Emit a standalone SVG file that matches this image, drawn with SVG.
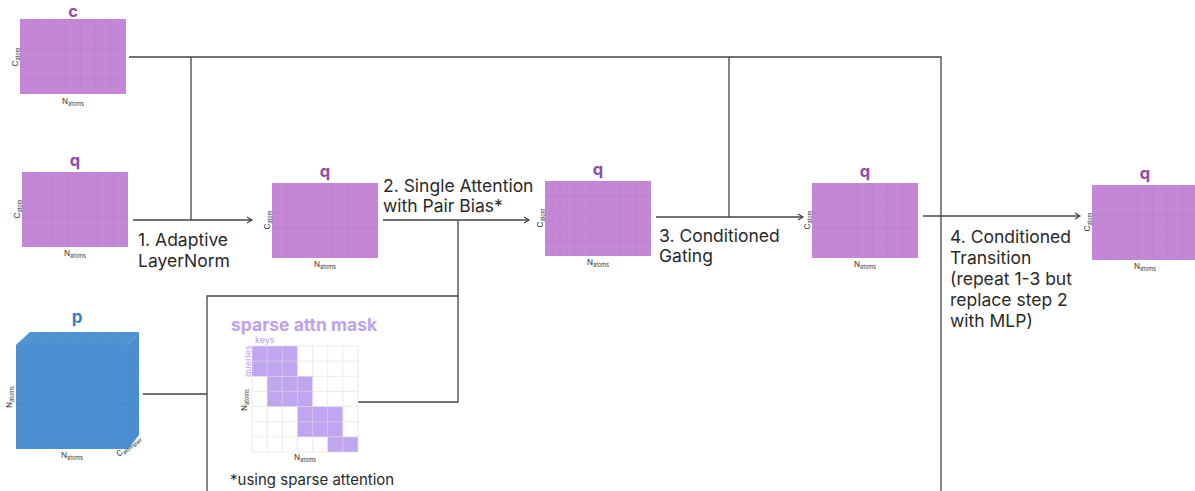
<svg xmlns="http://www.w3.org/2000/svg" xmlns:xlink="http://www.w3.org/1999/xlink" width="1195" height="491" viewBox="0 0 1195 491">
  <style>
    .step { font-family: Inter, "Liberation Sans", sans-serif; font-size: 17.5px; fill: #2a2a2a; }
    .name { font-family: Inter, "Liberation Sans", sans-serif; font-size: 16.5px; font-weight: 700; text-anchor: middle; }
    .q { fill: #8f4cab; }
    .p { fill: #3b7fc4; }
    .dim { font-family: Inter, "Liberation Sans", sans-serif; font-size: 8px; fill: #333; text-anchor: middle; }
    .sub { font-size: 5.5px; }
    .wire { fill: none; stroke: #444; stroke-width: 1.3; }
    .mask-text { font-family: Inter, "Liberation Sans", sans-serif; fill: #bea2ee; }
  </style>
  <defs>
    <marker id="arrow" markerWidth="8" markerHeight="8" refX="6" refY="4" orient="auto" markerUnits="userSpaceOnUse">
      <path d="M1,1 L6,4 L1,7" fill="none" stroke="#444" stroke-width="1.2"/>
    </marker>
    <!-- 7 x 5 tensor grid -->
    <g id="mat">
      <rect x="0" y="0" width="106" height="75" fill="#c487d6"/>
      <path d="M15.1,0V75M30.3,0V75M45.4,0V75M60.6,0V75M75.7,0V75M90.9,0V75M0,15H106M0,30H106M0,45H106M0,60H106" stroke="#b97bcd" stroke-width="0.6" fill="none"/>
    </g>
  </defs>
  <rect width="1195" height="491" fill="#fff"/>

  <!-- connectors -->
  <g id="connectors">
    <path class="wire" d="M129,57 H941 V491"/>
    <path class="wire" d="M191,57 V220"/>
    <path class="wire" d="M729,57 V217"/>
    <path class="wire" d="M133,220 H252" marker-end="url(#arrow)"/>
    <path class="wire" d="M383,220 H529" marker-end="url(#arrow)"/>
    <path class="wire" d="M656,217 H803" marker-end="url(#arrow)"/>
    <path class="wire" d="M923,216 H1080" marker-end="url(#arrow)"/>
    <path class="wire" d="M458,220 V402 H358"/>
    <path class="wire" d="M458,296 H207 V491"/>
    <path class="wire" d="M143,394 H207"/>
  </g>

  <!-- step labels -->
  <g id="labels">
    <text class="step" x="138" y="246">1. Adaptive</text>
    <text class="step" x="138" y="267">LayerNorm</text>
    <text class="step" x="383" y="192">2. Single Attention</text>
    <text class="step" x="383" y="212">with Pair Bias*</text>
    <text class="step" x="659" y="242">3. Conditioned</text>
    <text class="step" x="659" y="262">Gating</text>
    <text class="step" x="950" y="243">4. Conditioned</text>
    <text class="step" x="950" y="264">Transition</text>
    <text class="step" x="950" y="285">(repeat 1-3 but</text>
    <text class="step" x="950" y="306">replace step 2</text>
    <text class="step" x="950" y="327">with MLP)</text>
    <text class="step" x="230" y="485" style="font-size:15px">*using sparse attention</text>
  </g>

  <g id="node-c">
    <use href="#mat" x="20" y="19"/>
    <text class="name q" x="73" y="17">c</text>
    <text class="dim" transform="translate(18,57) rotate(-90)">C<tspan class="sub" dy="1.5">atom</tspan></text>
    <text class="dim" x="73" y="104">N<tspan class="sub" dy="1.5">atoms</tspan></text>
  </g>

  <g id="node-q-in">
    <use href="#mat" x="22" y="172"/>
    <text class="name q" x="75" y="166">q</text>
    <text class="dim" transform="translate(20,209) rotate(-90)">C<tspan class="sub" dy="1.5">atom</tspan></text>
    <text class="dim" x="75" y="256">N<tspan class="sub" dy="1.5">atoms</tspan></text>
  </g>

  <g id="node-q-norm">
    <use href="#mat" x="272" y="183"/>
    <text class="name q" x="325" y="177">q</text>
    <text class="dim" transform="translate(270,220) rotate(-90)">C<tspan class="sub" dy="1.5">atom</tspan></text>
    <text class="dim" x="325" y="267">N<tspan class="sub" dy="1.5">atoms</tspan></text>
  </g>

  <g id="node-q-attn">
    <use href="#mat" x="545" y="181"/>
    <text class="name q" x="598" y="175">q</text>
    <text class="dim" transform="translate(543,218) rotate(-90)">C<tspan class="sub" dy="1.5">atom</tspan></text>
    <text class="dim" x="598" y="265">N<tspan class="sub" dy="1.5">atoms</tspan></text>
  </g>

  <g id="node-q-gate">
    <use href="#mat" x="812" y="183"/>
    <text class="name q" x="865" y="177">q</text>
    <text class="dim" transform="translate(810,220) rotate(-90)">C<tspan class="sub" dy="1.5">atom</tspan></text>
    <text class="dim" x="865" y="267">N<tspan class="sub" dy="1.5">atoms</tspan></text>
  </g>

  <g id="node-q-out">
    <use href="#mat" x="1092" y="185"/>
    <text class="name q" x="1145" y="179">q</text>
    <text class="dim" transform="translate(1090,222) rotate(-90)">C<tspan class="sub" dy="1.5">atom</tspan></text>
    <text class="dim" x="1145" y="269">N<tspan class="sub" dy="1.5">atoms</tspan></text>
  </g>

  <!-- pair representation cube -->
  <g id="node-p">
    <path d="M16,345 L30,332 H139 L128,345 Z" fill="#4f93d3"/>
    <path d="M128,345 L139,332 V435 L128,449 Z" fill="#4a8ed0"/>
    <rect x="16" y="345" width="112" height="104" fill="#4c90d1"/>
    <path d="M32,345V449M48,345V449M64,345V449M80,345V449M96,345V449M112,345V449M16,359.9H128M16,374.7H128M16,389.6H128M16,404.4H128M16,419.3H128M16,434.1H128" stroke="#4484c5" stroke-width="0.6" fill="none"/>
    <path d="M32,345L45,332M48,345L61,332M64,345L77,332M80,345L93,332M96,345L109,332M112,345L125,332M128,359.9L139,346.5M128,374.7L139,361M128,389.6L139,376M128,404.4L139,391M128,419.3L139,405.5M128,434.1L139,420.5" stroke="#4484c5" stroke-width="0.5" fill="none"/>
    <text class="name p" x="77" y="323" style="font-size:17px">p</text>
    <text class="dim" transform="translate(12,397) rotate(-90)">N<tspan class="sub" dy="1.5">atoms</tspan></text>
    <text class="dim" x="72" y="458">N<tspan class="sub" dy="1.5">atoms</tspan></text>
    <text class="dim" style="text-anchor:start" transform="translate(119,457) rotate(-38)">C<tspan class="sub" dy="1.5">atompair</tspan></text>
  </g>

  <!-- sparse attention mask -->
  <g id="node-mask">
    <text class="mask-text" x="231" y="331" style="font-size:17.5px;font-weight:700">sparse attn mask</text>
    <g fill="#c0a5f0">
      <rect x="252" y="346" width="45.4" height="30.3"/>
      <rect x="267.1" y="376.3" width="45.4" height="30.3"/>
      <rect x="297.4" y="406.6" width="45.4" height="30.3"/>
      <rect x="327.7" y="436.9" width="30.3" height="15.1"/>
    </g>
    <path d="M252,346H358V452H252Z M267.1,346V452M282.3,346V452M297.4,346V452M312.6,346V452M327.7,346V452M342.9,346V452M252,361.1H358M252,376.3H358M252,391.4H358M252,406.6H358M252,421.7H358M252,436.9H358" stroke="#dedede" stroke-width="0.6" fill="none"/>
    <text class="mask-text" x="255" y="343" style="font-size:9px">keys</text>
    <text class="mask-text" transform="translate(251,377) rotate(-90)" style="font-size:9px">queries</text>
    <text class="dim" transform="translate(247,400) rotate(-90)">N<tspan class="sub" dy="1.5">atoms</tspan></text>
    <text class="dim" x="305" y="460">N<tspan class="sub" dy="1.5">atoms</tspan></text>
  </g>
</svg>
